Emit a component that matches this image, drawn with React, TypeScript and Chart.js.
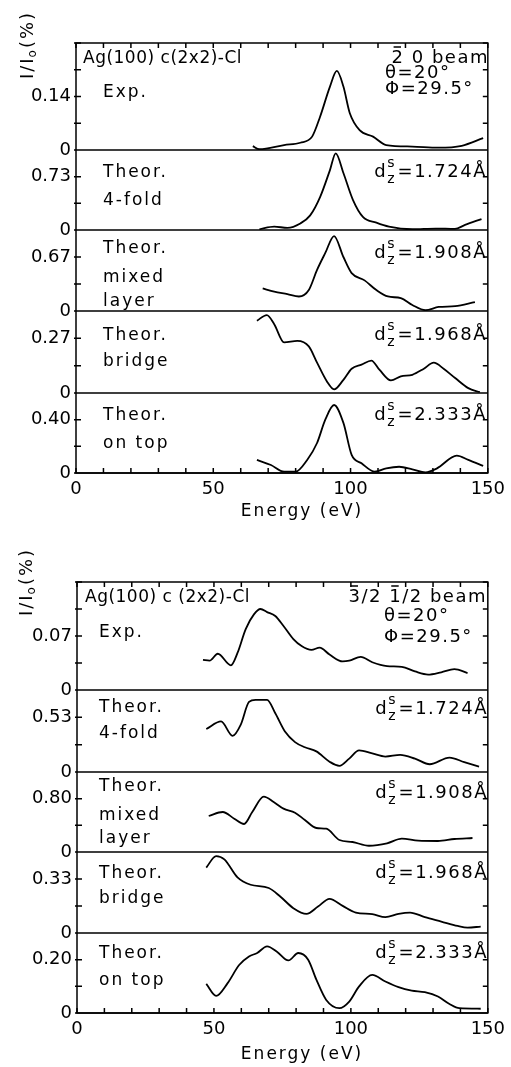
import React, { useEffect, useRef } from "react";
import { Chart, registerables } from "chart.js";

Chart.register(...registerables);

const FONT = "'DejaVu Sans', sans-serif";

// ---------- x axis ----------
const energyMin = 0;
const energyMax = 150;
const energyStep = 10;
const energyLabels = [0, 50, 100, 150];

// ---------- Panel A : 2̄0 beam ----------
const aExpE = [64.4, 66.8, 75.8, 81.7, 86, 88.9, 92.5, 95, 97.4, 99.7, 103.3, 108.2, 113, 122.5, 132, 140.5, 148.3];
const aExpI = [0.010, 0.002, 0.013, 0.019, 0.035, 0.087, 0.166, 0.207, 0.166, 0.097, 0.052, 0.035, 0.013, 0.009, 0.006, 0.011, 0.031];

const aFourE = [66.8, 72.2, 77, 81.7, 85.3, 88.9, 92.5, 94.6, 97.4, 100.9, 104.5, 109.4, 114, 122.5, 131, 138, 141.7, 147.7];
const aFourI = [0.01, 0.045, 0.03, 0.09, 0.2, 0.45, 0.82, 1.05, 0.78, 0.41, 0.18, 0.1, 0.045, 0.01, 0.02, 0.015, 0.07, 0.15];

const aMixE = [68, 72.2, 77, 81.2, 84.8, 87.8, 90.8, 94, 97.4, 100.4, 105.1, 109.4, 113.6, 118.3, 122.5, 127.3, 132.1, 138.1, 145.3];
const aMixI = [0.28, 0.24, 0.21, 0.18, 0.26, 0.51, 0.72, 0.93, 0.67, 0.47, 0.38, 0.26, 0.18, 0.16, 0.075, 0.01, 0.05, 0.06, 0.11];

const aBridgeE = [65.9, 69.5, 72.2, 75.8, 80.6, 84.8, 87.8, 91.4, 94, 97.4, 100.4, 104, 107.6, 110.5, 114.7, 118.3, 122.5, 126.7, 130.3, 133.9, 138.1, 142.9, 147.1];
const aBridgeI = [0.357, 0.385, 0.34, 0.25, 0.257, 0.23, 0.15, 0.057, 0.018, 0.065, 0.12, 0.14, 0.16, 0.115, 0.062, 0.082, 0.09, 0.12, 0.15, 0.12, 0.074, 0.024, 0.004];

const aTopE = [65.9, 71, 75.8, 80, 84.2, 87.8, 90.8, 94, 97.4, 100.4, 104, 108.8, 113, 117.7, 122.5, 127.3, 131.5, 138.7, 142.9, 148.3];
const aTopI = [0.098, 0.06, 0.01, 0.01, 0.098, 0.225, 0.40, 0.51, 0.376, 0.136, 0.073, 0.01, 0.035, 0.047, 0.028, 0.005, 0.035, 0.13, 0.098, 0.053];

const aTickLabels = [0.14, 0.73, 0.67, 0.27, 0.40];

// ---------- Panel B : 3̄/2 1̄/2 beam ----------
const bExpE = [46, 48.4, 51.4, 56.2, 58.6, 61.6, 64.6, 67, 69.4, 72.4, 75.4, 79, 82, 85.6, 88.6, 92.2, 97, 99.4, 103.6, 107.8, 113.2, 118.6, 123.4, 128.2, 133, 137.8, 142.6];
const bExpI = [0.039, 0.038, 0.047, 0.032, 0.048, 0.079, 0.098, 0.105, 0.101, 0.096, 0.083, 0.066, 0.057, 0.052, 0.055, 0.046, 0.037, 0.038, 0.043, 0.036, 0.031, 0.03, 0.024, 0.02, 0.023, 0.027, 0.022];

const bFourE = [47.2, 52.6, 56.8, 59.8, 62.8, 65.2, 69.4, 72.4, 76, 79.6, 83.2, 87.4, 92.2, 95.8, 99.4, 103, 107.8, 112.6, 118, 123.4, 128.8, 136, 141.4, 146.8];
const bFourI = [0.417, 0.49, 0.35, 0.46, 0.68, 0.70, 0.70, 0.57, 0.39, 0.29, 0.24, 0.2, 0.1, 0.06, 0.13, 0.21, 0.18, 0.15, 0.166, 0.13, 0.075, 0.14, 0.095, 0.052];

const bMixE = [48.1, 53.2, 57.4, 61, 64, 68.2, 71.8, 75.4, 79.6, 83.2, 87.4, 91, 95.8, 100.6, 106.6, 113.2, 118.6, 124.6, 131.8, 137.8, 144.4];
const bMixI = [0.54, 0.6, 0.5, 0.42, 0.6, 0.83, 0.75, 0.65, 0.59, 0.48, 0.36, 0.35, 0.18, 0.15, 0.094, 0.13, 0.2, 0.17, 0.165, 0.195, 0.21];

const bBridgeE = [47.2, 50.8, 53.8, 58.6, 63.4, 70, 74.2, 79, 83.8, 88, 92.2, 97, 101.8, 107.8, 112.6, 117.4, 121.6, 127, 133, 139, 142.6, 147.4];
const bBridgeI = [0.40, 0.47, 0.45, 0.34, 0.295, 0.275, 0.223, 0.152, 0.117, 0.162, 0.209, 0.166, 0.125, 0.115, 0.097, 0.117, 0.125, 0.097, 0.07, 0.043, 0.033, 0.039];

const bTopE = [47.2, 50.8, 55, 59.2, 62.8, 65.8, 69.4, 73, 77.2, 80.8, 84.4, 87.4, 91, 95.8, 99.4, 103, 107.8, 112.6, 117.4, 122.2, 127, 131.8, 136, 139.6, 147.4];
const bTopI = [0.109, 0.064, 0.112, 0.18, 0.212, 0.225, 0.25, 0.23, 0.197, 0.225, 0.2, 0.125, 0.049, 0.018, 0.043, 0.1, 0.143, 0.118, 0.097, 0.084, 0.078, 0.062, 0.034, 0.018, 0.016];

const bTickLabels = [0.07, 0.53, 0.80, 0.33, 0.20];

// ---------- shared text ----------
const spacingValues = ["", "1.724", "1.908", "1.968", "2.333"];
const modelLabels = [["Exp."], ["Theor.", "4-fold"], ["Theor.", "mixed", "layer"], ["Theor.", "bridge"], ["Theor.", "on top"]];
const thetaText = "\u03B8=20\u00B0";
const phiText = "\u03A6=29.5\u00B0";
const xTitleText = "Energy (eV)";

type Panel = {
  top: number;
  height: number;
  pad: { left: number; right: number; top: number };
  yWidth: number;
  xHeight: number;
  weights: number[];
  factors: number[];
  series: number[][][];
  tickLabels: number[];
  system: string;
  beam: string;
  beamBars: number[];
  systemX: number;
  beamRight: number;
  headerY: number;
  anglesX: number;
  thetaY: number;
  phiY: number;
  textLeft: number;
  lineOffsets: number[][];
  dOffsets: number[];
  dRight: number;
  yTitle: { x: number; y: number };
  xTitle: { x: number; y: number };
};

const panelA: Panel = {
  top: 0,
  height: 525,
  pad: { left: 0, right: 18, top: 43 },
  yWidth: 76,
  xHeight: 52,
  weights: [107, 80, 81, 82, 80],
  factors: [2, 1.5, 1.5, 1.5, 1.5],
  series: [[aExpE, aExpI], [aFourE, aFourI], [aMixE, aMixI], [aBridgeE, aBridgeI], [aTopE, aTopI]],
  tickLabels: aTickLabels,
  system: "Ag(100) c(2x2)-Cl",
  beam: "2 0 beam",
  beamBars: [0],
  systemX: 7,
  beamRight: 413,
  headerY: 20,
  anglesX: 309,
  thetaY: 35,
  phiY: 51,
  textLeft: 27,
  lineOffsets: [[54], [27, 55], [23, 52, 76], [29, 55], [27, 55]],
  dOffsets: [0, 27, 28, 29, 27],
  dRight: 411,
  yTitle: { x: 28, y: 45 },
  xTitle: { x: 302, y: 512 },
};

const panelB: Panel = {
  top: 525,
  height: 542,
  pad: { left: 0, right: 17, top: 57 },
  yWidth: 77,
  xHeight: 54,
  weights: [108, 82, 80, 81, 80],
  factors: [2, 1.5, 1.5, 1.5, 1.5],
  series: [[bExpE, bExpI], [bFourE, bFourI], [bMixE, bMixI], [bBridgeE, bBridgeI], [bTopE, bTopI]],
  tickLabels: bTickLabels,
  system: "Ag(100) c (2x2)-Cl",
  beam: "3/2 1/2 beam",
  beamBars: [0, 4],
  systemX: 8,
  beamRight: 410,
  headerY: 20,
  anglesX: 307,
  thetaY: 39,
  phiY: 60,
  textLeft: 22,
  lineOffsets: [[55], [22, 48], [19, 48, 71], [26, 51], [25, 52]],
  dOffsets: [0, 24, 26, 26, 25],
  dRight: 411,
  yTitle: { x: 27, y: 57 },
  xTitle: { x: 302, y: 530 },
};

function setFont(ctx: CanvasRenderingContext2D, size: number, spacing = 0) {
  ctx.font = `${size}px ${FONT}`;
  (ctx as any).letterSpacing = `${spacing}px`;
}

function drawSpacing(ctx: CanvasRenderingContext2D, value: string, right: number, base: number) {
  ctx.textAlign = "left";
  setFont(ctx, 18, 1.5);
  const wd = ctx.measureText("d").width;
  const rest = "=" + value + "\u00C5";
  const wr = ctx.measureText(rest).width;
  setFont(ctx, 14, 0);
  const ws = Math.max(ctx.measureText("s").width, ctx.measureText("z").width);
  const total = wd + ws + 3 + wr;
  const x0 = right - total;
  setFont(ctx, 18, 1.5);
  ctx.fillText("d", x0, base);
  setFont(ctx, 14, 0);
  ctx.fillText("s", x0 + wd, base - 10);
  ctx.fillText("z", x0 + wd, base + 6);
  setFont(ctx, 18, 1.5);
  ctx.fillText(rest, x0 + wd + ws + 3, base);
}

function drawBeam(ctx: CanvasRenderingContext2D, text: string, bars: number[], right: number, base: number) {
  setFont(ctx, 18, 1.5);
  ctx.textAlign = "left";
  const total = ctx.measureText(text).width;
  const x0 = right - total;
  ctx.fillText(text, x0, base);
  ctx.save();
  ctx.lineWidth = 1.5;
  ctx.beginPath();
  bars.forEach((idx) => {
    const xs = x0 + ctx.measureText(text.slice(0, idx)).width;
    const cw = ctx.measureText(text[idx]).width - 1.5;
    ctx.moveTo(xs + 2, base - 16);
    ctx.lineTo(xs + cw - 2, base - 16);
  });
  ctx.stroke();
  ctx.restore();
}

function makeOverlay(p: Panel) {
  return {
    id: "overlay",
    afterDraw(chart: any) {
      const ctx: CanvasRenderingContext2D = chart.ctx;
      const a = chart.chartArea;
      ctx.save();
      ctx.strokeStyle = "#000";
      ctx.fillStyle = "#000";
      ctx.lineWidth = 1.5;
      ctx.strokeRect(a.left, a.top, a.right - a.left, a.bottom - a.top);
      const tl = 5;
      ctx.beginPath();
      p.tickLabels.forEach((_, i) => {
        const s = chart.scales["y" + i];
        const y0 = s.getPixelForValue(0);
        ctx.moveTo(a.left, y0);
        ctx.lineTo(a.right, y0);
        s.ticks.forEach((t: any) => {
          const y = s.getPixelForValue(t.value);
          ctx.moveTo(a.left - 2, y);
          ctx.lineTo(a.left + tl, y);
          ctx.moveTo(a.right - tl, y);
          ctx.lineTo(a.right, y);
        });
      });
      const xs = chart.scales.x;
      xs.ticks.forEach((t: any) => {
        const x = xs.getPixelForValue(t.value);
        ctx.moveTo(x, a.bottom);
        ctx.lineTo(x, a.bottom - tl);
        ctx.moveTo(x, a.top);
        ctx.lineTo(x, a.top + tl);
      });
      ctx.stroke();

      ctx.textBaseline = "alphabetic";
      // header
      const top0 = chart.scales.y0.top;
      setFont(ctx, 17, 0.5);
      ctx.textAlign = "left";
      ctx.fillText(p.system, a.left + p.systemX, top0 + p.headerY);
      drawBeam(ctx, p.beam, p.beamBars, a.left + p.beamRight, top0 + p.headerY);
      ctx.textAlign = "left";
      setFont(ctx, 18, 1.5);
      ctx.fillText(thetaText, a.left + p.anglesX, top0 + p.thetaY);
      ctx.fillText(phiText, a.left + p.anglesX, top0 + p.phiY);

      // model labels and spacings
      modelLabels.forEach((lines, i) => {
        const s = chart.scales["y" + i];
        setFont(ctx, 17, 2);
        ctx.textAlign = "left";
        lines.forEach((ln, k) => {
          ctx.fillText(ln, a.left + p.textLeft, s.top + p.lineOffsets[i][k]);
        });
        if (spacingValues[i]) {
          drawSpacing(ctx, spacingValues[i], a.left + p.dRight, s.top + p.dOffsets[i]);
        }
      });

      // y title (rotated)
      ctx.save();
      ctx.translate(p.yTitle.x, p.yTitle.y);
      ctx.rotate(-Math.PI / 2);
      setFont(ctx, 18, 2);
      ctx.textBaseline = "middle";
      ctx.textAlign = "left";
      const w1 = ctx.measureText("I/I").width;
      const w3 = ctx.measureText("(%)").width;
      setFont(ctx, 12, 0);
      const w2 = ctx.measureText("o").width + 1;
      const tot = w1 + w2 + w3;
      let x = -tot / 2;
      setFont(ctx, 18, 2);
      ctx.fillText("I/I", x, 0);
      x += w1;
      setFont(ctx, 12, 0);
      ctx.fillText("o", x - 1, 5);
      x += w2;
      setFont(ctx, 18, 2);
      ctx.fillText("(%)", x, 0);
      ctx.restore();

      // x title
      setFont(ctx, 17, 2);
      ctx.textAlign = "center";
      ctx.textBaseline = "middle";
      ctx.fillText(xTitleText, p.xTitle.x, p.xTitle.y);
      ctx.restore();
    },
  };
}

function PanelChart({ p }: { p: Panel }) {
  const ref = useRef<HTMLCanvasElement>(null);
  useEffect(() => {
    const canvas = ref.current;
    if (!canvas) return;
    const datasets = p.series.map(([E, I], i) => ({
      data: E.map((e, k) => ({ x: e, y: I[k] })),
      yAxisID: "y" + i,
      borderColor: "#000",
      borderWidth: 1.8,
      pointRadius: 0,
      fill: false,
      cubicInterpolationMode: "monotone" as const,
    }));
    const tickFont = { family: FONT, size: 18 };
    const scales: any = {
      x: {
        type: "linear",
        min: energyMin,
        max: energyMax,
        grid: { display: false, drawTicks: false },
        border: { display: false },
        ticks: {
          stepSize: energyStep,
          autoSkip: false,
          maxRotation: 0,
          padding: 6,
          color: "#000",
          font: tickFont,
          callback: (v: number) => (energyLabels.includes(v) ? String(v) : ""),
        },
        afterFit: (s: any) => {
          s.height = p.xHeight;
        },
      },
    };
    p.tickLabels.forEach((L, i) => {
      scales["y" + i] = {
        type: "linear",
        position: "left",
        stack: "panel",
        stackWeight: p.weights[i],
        weight: 10 - i,
        min: 0,
        max: L * p.factors[i],
        grid: { display: false, drawTicks: false },
        border: { display: false },
        ticks: {
          stepSize: L / 2,
          autoSkip: false,
          padding: 5,
          color: "#000",
          font: tickFont,
          callback: (v: number) => (Math.abs(v) < 1e-9 ? "0" : Math.abs(v - L) < 1e-6 ? L.toFixed(2) : ""),
        },
        afterFit: (s: any) => {
          s.width = p.yWidth;
        },
      };
    });
    const chart = new Chart(canvas, {
      type: "line",
      data: { datasets },
      options: {
        responsive: false,
        animation: false,
        devicePixelRatio: 1,
        events: [],
        layout: { padding: { left: p.pad.left, right: p.pad.right, top: p.pad.top, bottom: 0 } },
        plugins: { legend: { display: false }, tooltip: { enabled: false }, title: { display: false } },
        scales,
      } as any,
      plugins: [makeOverlay(p)],
    });
    return () => chart.destroy();
  }, [p]);
  return (
    <canvas
      ref={ref}
      width={511}
      height={p.height}
      style={{ position: "absolute", left: 0, top: p.top, width: 511, height: p.height }}
    />
  );
}

export default function App() {
  return (
    <div style={{ position: "absolute", left: 0, top: 0, width: 511, height: 1067, background: "#fff" }}>
      <PanelChart p={panelA} />
      <PanelChart p={panelB} />
    </div>
  );
}
